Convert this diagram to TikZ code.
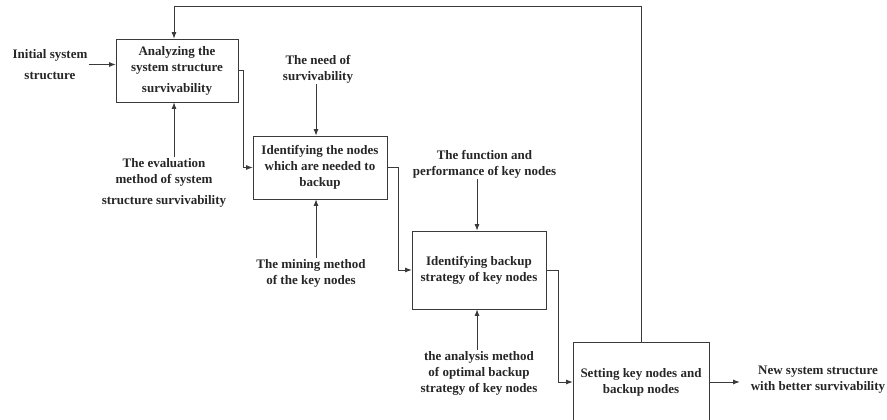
\documentclass[tikz,border=0pt]{standalone}
\usepackage{fontspec}
\setmainfont{Liberation Serif}
\usepackage{tikz}
\usetikzlibrary{calc}
\usetikzlibrary{arrows}
\usetikzlibrary{arrows.meta}
\usetikzlibrary{positioning}
\definecolor{ink}{HTML}{3A3A3A}
\definecolor{txt}{HTML}{262626}
\tikzset{>=latex}
\tikzstyle{stepbox} = [draw = ink, line width = 0.8pt, align = center, inner sep = 2pt, text = txt]
\tikzstyle{lbl} = [draw = none, align = center, inner sep = 1pt, text = txt]
\tikzstyle{arr} = [-{Latex[length=6.5pt,width=5pt]}, draw = ink, line width = 0.8pt]

\begin{document}
\begin{tikzpicture}[x=1pt, y=-1pt, font=\fontsize{13}{16}\selectfont\bfseries]
\useasboundingbox (0,0) rectangle (887,420);
% boxes
\node [stepbox, minimum width = 122pt, minimum height = 63pt] (B1) at (177, 70.5) {Analyzing the\\system structure\\[5pt]survivability};
\node [stepbox, minimum width = 134pt, minimum height = 63pt] (B2) at (320, 167.5) {Identifying the nodes\\which are needed to\\backup};
\node [stepbox, minimum width = 134pt, minimum height = 78pt] (B3) at (479, 270) {Identifying backup\\strategy of key nodes};
\node [stepbox, minimum width = 136pt, minimum height = 80pt] (B4) at (641, 382) {Setting key nodes and\\backup nodes};
% labels
\node [lbl] (In) at (50, 64.5) {Initial system\\[5pt]structure};
\node [lbl] (Ev) at (164, 183) {The evaluation\\method of system\\[5pt]structure survivability};
\node [lbl] (Nd) at (318, 69) {The need of\\survivability};
\node [lbl] (Mn) at (311, 273) {The mining method\\of the key nodes};
\node [lbl] (Fn) at (484.5, 164) {The function and\\performance of key nodes};
\node [lbl] (An) at (479, 373) {the analysis method\\of optimal backup\\strategy of key nodes};
\node [lbl] (Out) at (818, 380) {New system structure\\with better survivability};
\coordinate (Top) at (641, 6);
% inputs and mechanisms
\draw [arr] (In.east) to (In.east -| B1.west);
\draw [arr] ([xshift=-3pt]B1.south |- Ev.north) to ([xshift=-3pt]B1.south);
\draw [arr] ([xshift=-4pt]B2.north |- Nd.south) to ([xshift=-4pt]B2.north);
\draw [arr] ([xshift=-4pt]B2.south |- Mn.north) to ([xshift=-4pt]B2.south);
\draw [arr] ([xshift=-2pt]B3.north |- Fn.south) to ([xshift=-2pt]B3.north);
\draw [arr] ([xshift=-2pt]B3.south |- An.north) to ([xshift=-2pt]B3.south);
% flow between steps
\draw [arr] (B1.east) -- ++(5,0) |- (B2.west);
\draw [arr] (B2.east) -- ++(11,0) |- (B3.west);
\draw [arr] (B3.east) -- ++(12,0) |- (B4.west);
\draw [arr] (B4.east) to ([xshift=-10pt]Out.west |- B4.east);
% feedback
\draw [arr] (B4.north) -- (Top) -| ([xshift=-3pt]B1.north);
\end{tikzpicture}
\end{document}
